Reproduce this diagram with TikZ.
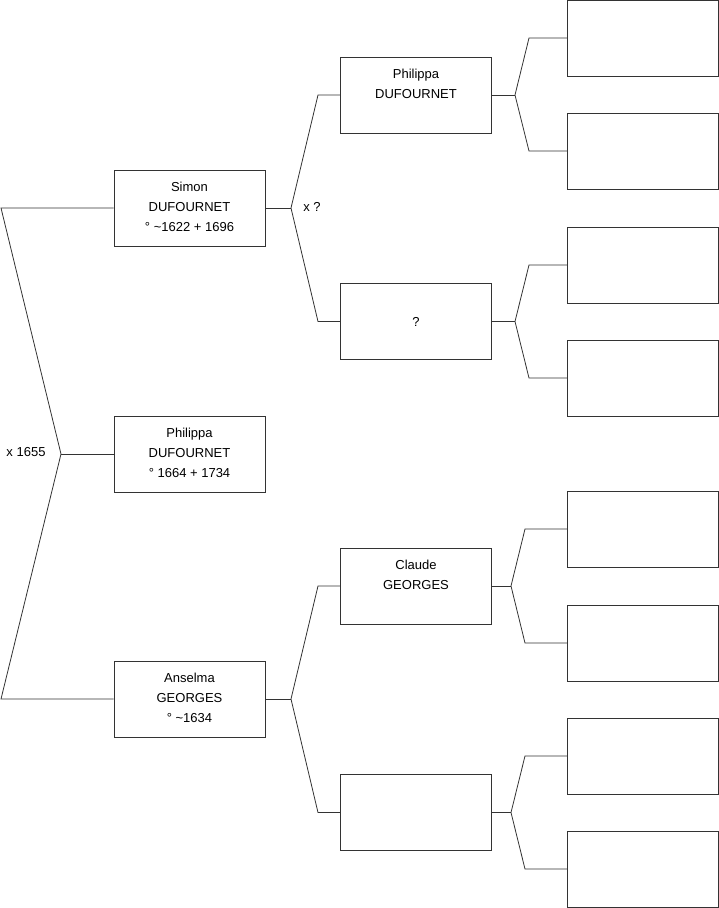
\documentclass[tikz,border=0pt]{standalone}
\usepackage{fontspec}
\setmainfont{Liberation Sans}
\usetikzlibrary{positioning}
\definecolor{linegray}{HTML}{333333}
\newcommand{\who}[1]{\begin{tabular}[t]{@{}c@{}}#1\end{tabular}}

\begin{document}
\begin{tikzpicture}[
        x=1pt, y=-1pt,
        font=\fontsize{13}{20}\selectfont,
        person/.style={draw=linegray, line width=1pt, minimum width=151pt, minimum height=76pt,
            inner ysep=9pt, text height=12pt, text depth=46pt},
        unknown/.style={draw=linegray, line width=1pt, minimum width=151pt, minimum height=76pt, align=center},
        link/.style={draw=linegray, line width=0.8pt}
    ]
    \useasboundingbox (0,0) rectangle (719,908);

    % generation 1 and 2
    \node[person] (simon) at (189.5,208) {\who{Simon\\DUFOURNET\\° \textasciitilde1622 + 1696}};
    \node[person] (philippa) at (189.5,454) {\who{Philippa\\DUFOURNET\\° 1664 + 1734}};
    \node[person] (anselma) at (189.5,699) {\who{Anselma\\GEORGES\\° \textasciitilde1634}};

    % generation 3
    \node[person] (philippab) at (416,95) {\who{Philippa\\DUFOURNET}};
    \node[unknown] (unk) at (416,321.5) {?};
    \node[person] (claude) at (416,586) {\who{Claude\\GEORGES}};
    \node[unknown] (blank) at (416,812.5) {};

    % generation 4
    \node[unknown] (r1) at (643,38) {};
    \node[unknown] (r2) at (643,151) {};
    \node[unknown] (r3) at (643,265) {};
    \node[unknown] (r4) at (643,378) {};
    \node[unknown] (r5) at (643,529) {};
    \node[unknown] (r6) at (643,643) {};
    \node[unknown] (r7) at (643,756) {};
    \node[unknown] (r8) at (643,869) {};

    % parents of Philippa
    \coordinate (j0) at (61,454);
    \draw[link] (philippa.west) -- (j0);
    \draw[link] (simon.west) -- (1,208) -- (j0) -- (1,699) -- (anselma.west);
    \node (mar0) at (26,452) {x 1655};

    % parents of Simon
    \coordinate (j1) at (291,208);
    \draw[link] (simon.east) -- (j1);
    \draw[link] (philippab.west) -- (318,95) -- (j1) -- (318,321.5) -- (unk.west);
    \node (mar1) at (312,207) {x ?};

    % parents of Anselma
    \coordinate (j2) at (291,699);
    \draw[link] (anselma.east) -- (j2);
    \draw[link] (claude.west) -- (318,586) -- (j2) -- (318,812.5) -- (blank.west);

    % generation 4 links
    \coordinate (j3) at (515,95);
    \draw[link] (philippab.east) -- (j3);
    \draw[link] (r1.west) -- (529,38) -- (j3) -- (529,151) -- (r2.west);
    \coordinate (j4) at (515,321.5);
    \draw[link] (unk.east) -- (j4);
    \draw[link] (r3.west) -- (529,265) -- (j4) -- (529,378) -- (r4.west);
    \coordinate (j5) at (511,586);
    \draw[link] (claude.east) -- (j5);
    \draw[link] (r5.west) -- (525,529) -- (j5) -- (525,643) -- (r6.west);
    \coordinate (j6) at (511,812.5);
    \draw[link] (blank.east) -- (j6);
    \draw[link] (r7.west) -- (525,756) -- (j6) -- (525,869) -- (r8.west);
\end{tikzpicture}
\end{document}
